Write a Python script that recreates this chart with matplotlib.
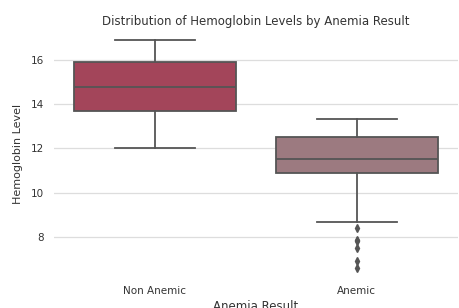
import matplotlib
matplotlib.use("Agg")
import matplotlib.pyplot as plt

categories = ["Non Anemic", "Anemic"]
whislo = [12.0, 8.65]
q1 = [13.7, 10.9]
med = [14.8, 11.5]
q3 = [15.9, 12.5]
whishi = [16.9, 13.35]
fliers = [[], [8.4, 7.85, 7.8, 7.5, 6.9, 6.6]]
colors = ["#A3455A", "#9C7A80"]
yticks = [8, 10, 12, 14, 16]

plt.rcParams['font.family'] = ['DejaVu Sans']
fig = plt.figure(figsize=(4.59, 3.08), dpi=100)
ax = fig.add_axes([0.1176, 0.094, 0.880, 0.8127])

stats = []
for i, c in enumerate(categories):
    stats.append(dict(label=c, whislo=whislo[i], q1=q1[i], med=med[i], q3=q3[i],
                      whishi=whishi[i], fliers=fliers[i]))

lc = "#555555"
bp = ax.bxp(stats, positions=range(len(categories)), widths=0.8, patch_artist=True,
            boxprops=dict(edgecolor=lc, linewidth=1.3),
            medianprops=dict(color=lc, linewidth=1.3),
            whiskerprops=dict(color=lc, linewidth=1.3),
            capprops=dict(color=lc, linewidth=1.3),
            flierprops=dict(marker='d', markerfacecolor=lc, markeredgecolor=lc, markersize=4),
            capwidths=0.4, zorder=2)
for patch, col in zip(bp['boxes'], colors):
    patch.set_facecolor(col)

ax.set_xlim(-0.5, 1.5)
ax.set_ylim(6.085, 17.415)
ax.set_yticks(yticks)
ax.grid(axis='y', color='#dddddd', linewidth=0.9, zorder=0)
ax.set_axisbelow(True)
for s in ax.spines.values():
    s.set_visible(False)
ax.tick_params(axis='x', length=0, labelsize=7.5, colors='#333333', pad=5)
ax.tick_params(axis='y', length=0, labelsize=7.5, colors='#333333', pad=7)
ax.set_title("Distribution of Hemoglobin Levels by Anemia Result", fontsize=8.5, color='#333333', pad=3)
ax.set_ylabel("Hemoglobin Level", fontsize=8, color='#333333', labelpad=6)
ax.set_xlabel("Anemia Result", fontsize=8.5, color='#333333', labelpad=3)
fig.savefig("out.png", dpi=100)
